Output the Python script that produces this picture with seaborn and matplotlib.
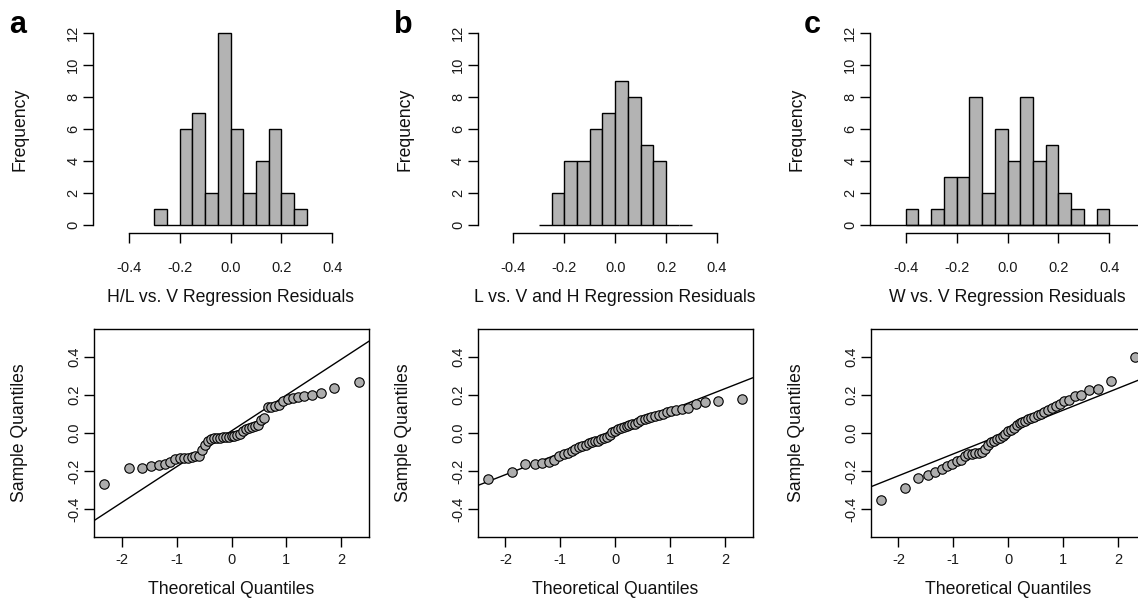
import numpy as np
import pandas as pd
import seaborn as sns
import matplotlib
matplotlib.use("Agg")
import matplotlib.pyplot as plt
from statistics import NormalDist

# ---------------- data ----------------
bin_width = 0.05
hist_a_edges_start = -0.30
hist_a_counts = [1, 0, 6, 7, 2, 12, 6, 2, 4, 6, 2, 1]
hist_b_edges_start = -0.30
hist_b_counts = [0, 2, 4, 4, 6, 7, 9, 8, 5, 4, 0, 0]
hist_c_edges_start = -0.40
hist_c_counts = [1, 0, 1, 3, 3, 8, 2, 6, 4, 8, 4, 5, 2, 1, 0, 1]

hist_xlabels = ["H/L vs. V Regression Residuals",
                "L vs. V and H Regression Residuals",
                "W vs. V Regression Residuals"]
panel_letters = ["a", "b", "c"]

qq_a_sample = [-0.265, -0.183, -0.182, -0.174, -0.169, -0.160, -0.152,
               -0.135, -0.133, -0.131, -0.129, -0.126, -0.122, -0.118,
               -0.089, -0.065,
               -0.044, -0.032, -0.028, -0.026, -0.024, -0.022, -0.020, -0.019,
               -0.017, -0.014, -0.012, -0.004,
               0.008, 0.020, 0.027, 0.033, 0.036, 0.040,
               0.070, 0.079,
               0.136, 0.138, 0.140, 0.148,
               0.166, 0.178, 0.183, 0.189, 0.192, 0.198,
               0.210, 0.236, 0.266]
qq_b_sample = [-0.243, -0.203,
               -0.162, -0.160, -0.157, -0.152,
               -0.143, -0.120, -0.108, -0.104,
               -0.095, -0.085, -0.075, -0.068, -0.062, -0.055,
               -0.048, -0.044, -0.040, -0.030, -0.025, -0.020, -0.010,
               0.005, 0.012, 0.020, 0.028, 0.033, 0.036, 0.040, 0.045, 0.048,
               0.060, 0.068, 0.074, 0.080, 0.085, 0.090, 0.095, 0.100,
               0.108, 0.113, 0.118, 0.125, 0.130,
               0.153, 0.165, 0.170, 0.179]
qq_c_sample = [-0.353, -0.287,
               -0.238, -0.221, -0.205,
               -0.188, -0.174, -0.160,
               -0.148, -0.140, -0.120, -0.112, -0.108, -0.106, -0.104, -0.102,
               -0.085, -0.062,
               -0.045, -0.040, -0.033, -0.025, -0.018, -0.005,
               0.008, 0.015, 0.028, 0.042,
               0.052, 0.058, 0.065, 0.072, 0.078, 0.082, 0.095, 0.100,
               0.112, 0.120, 0.130, 0.140,
               0.151, 0.169, 0.174, 0.195, 0.200,
               0.223, 0.231, 0.273, 0.397]
qq_line_intercept = [0.011, 0.007, 0.005]
qq_line_slope = [0.1877, 0.1127, 0.1146]

hist_xticks = [-0.4, -0.2, 0.0, 0.2, 0.4]
hist_yticks = [0, 2, 4, 6, 8, 10, 12]
qq_xticks = [-2, -1, 0, 1, 2]
qq_yticks = [-0.4, -0.2, 0.0, 0.2, 0.4]

# ---------------- style ----------------
sns.set_style("ticks")
plt.rcParams["font.family"] = ["Liberation Sans", "DejaVu Sans"]
plt.rcParams["axes.unicode_minus"] = False

W, H = 1138, 600
fig = plt.figure(figsize=(W / 100, H / 100), dpi=100)

lefts_hist = [93, 477.7, 870]
lefts_qq = [94, 477.7, 870.7]
ax_w = 275
hist_top, hist_bot = 25.3, 233
qq_top, qq_bot = 329, 537

BAR_GRAY = "#b3b3b3"
PT_GRAY = "#adadad"
TICK_FS = 10.5
LABEL_FS = 12.7


def frac_rect(left, top, bottom):
    return [left / W, 1 - bottom / H, ax_w / W, (bottom - top) / H]


def style_ticks(a, xpad, ypad):
    a.tick_params(axis="both", which="major", direction="out", length=7.2,
                  width=1.0, color="black", labelsize=TICK_FS,
                  labelcolor="#1a1a1a", bottom=True, left=True,
                  top=False, right=False)
    a.tick_params(axis="x", pad=xpad)
    a.tick_params(axis="y", pad=ypad)


hist_data = [(hist_a_edges_start, hist_a_counts),
             (hist_b_edges_start, hist_b_counts),
             (hist_c_edges_start, hist_c_counts)]
qq_samples = [qq_a_sample, qq_b_sample, qq_c_sample]

for k in range(3):
    # ---------- histogram ----------
    ax = fig.add_axes(frac_rect(lefts_hist[k], hist_top, hist_bot))
    start, counts = hist_data[k]
    nb = len(counts)
    edges = [round(start + bin_width * i, 4) for i in range(nb + 1)]
    centers = [round((edges[i] + edges[i + 1]) / 2, 4) for i in range(nb)]
    df = pd.DataFrame({"resid": centers, "count": [float(c) for c in counts]})
    sns.histplot(data=df, x="resid", weights="count", bins=edges, ax=ax,
                 color=BAR_GRAY, edgecolor="black", linewidth=1.0, alpha=1.0)
    if k == 2:
        ax.axhline(0, color="black", lw=1.0, zorder=3)
    ax.set_xlim(-0.54, 0.54)
    ax.set_ylim(-0.48, 12.48)
    ax.set_xticks(hist_xticks)
    ax.set_xticklabels([f"{t:.1f}" for t in hist_xticks])
    ax.set_yticks(hist_yticks)
    ax.set_yticklabels([str(t) for t in hist_yticks], rotation=90, va="center")
    for s in ["top", "right"]:
        ax.spines[s].set_visible(False)
    ax.spines["left"].set_bounds(0, 12)
    ax.spines["bottom"].set_bounds(-0.4, 0.4)
    for s in ["left", "bottom"]:
        ax.spines[s].set_linewidth(1.0)
        ax.spines[s].set_color("black")
    style_ticks(ax, 13, 2)
    ax.set_xlabel(hist_xlabels[k], fontsize=LABEL_FS, color="#111111")
    ax.set_ylabel("Frequency", fontsize=LABEL_FS, color="#111111")
    ax.xaxis.set_label_coords(0.5, -64 / (hist_bot - hist_top))
    ax.xaxis.label.set_va("center")
    ax.yaxis.set_label_coords(-73 / ax_w, 0.5)
    ax.yaxis.label.set_va("center")
    ax.grid(False)

    fig.text([18, 403, 812][k] / W, 1 - 33 / H, panel_letters[k],
             fontsize=22, fontweight="bold", color="black",
             ha="center", va="baseline")

    # ---------- QQ plot ----------
    axq = fig.add_axes(frac_rect(lefts_qq[k], qq_top, qq_bot))
    sample = sorted(qq_samples[k])
    n = len(sample)
    nd = NormalDist()
    theo = [nd.inv_cdf((i - 0.5) / n) for i in range(1, n + 1)]
    qdf = pd.DataFrame({"theo": theo, "sample": sample})
    sns.scatterplot(data=qdf, x="theo", y="sample", ax=axq, s=46,
                    color=PT_GRAY, edgecolor="black", linewidth=0.8, zorder=3)
    axq.axline((0, qq_line_intercept[k]), slope=qq_line_slope[k],
               color="black", lw=1.0, zorder=2)
    axq.set_xlim(-2.505, 2.505)
    axq.set_ylim(-0.545, 0.545)
    axq.set_xticks(qq_xticks)
    axq.set_xticklabels([str(t) for t in qq_xticks])
    axq.set_yticks(qq_yticks)
    axq.set_yticklabels([f"{t:.1f}" for t in qq_yticks], rotation=90, va="center")
    for s in axq.spines.values():
        s.set_visible(True)
        s.set_linewidth(1.0)
        s.set_color("black")
    style_ticks(axq, 4.5, 2)
    axq.set_xlabel("Theoretical Quantiles", fontsize=LABEL_FS, color="#111111")
    axq.set_ylabel("Sample Quantiles", fontsize=LABEL_FS, color="#111111")
    axq.xaxis.set_label_coords(0.5, -53 / (qq_bot - qq_top))
    axq.xaxis.label.set_va("center")
    axq.yaxis.set_label_coords(-74 / ax_w, 0.5)
    axq.yaxis.label.set_va("center")
    axq.grid(False)

fig.savefig("out.png", dpi=100, facecolor="white")
